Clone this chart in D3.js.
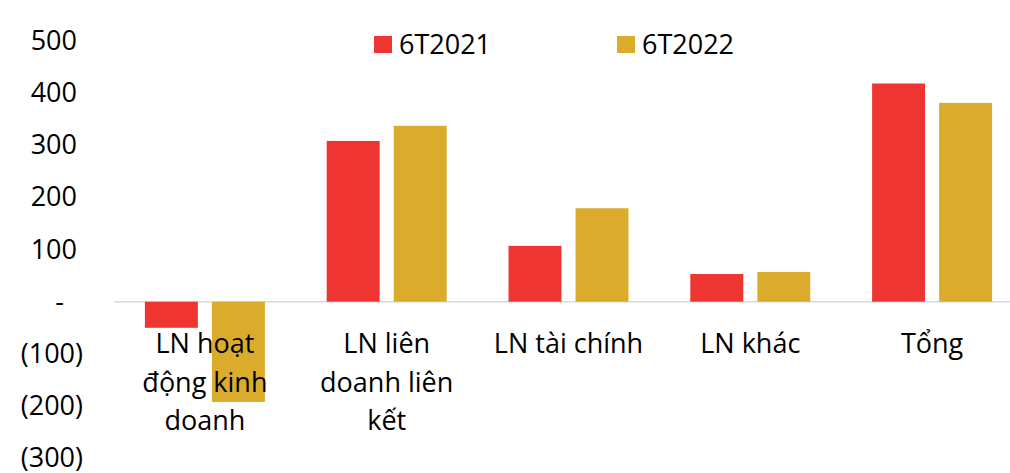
<!DOCTYPE html>
<html>
<head>
<meta charset="utf-8">
<script src="https://cdn.jsdelivr.net/npm/d3@7"></script>
<style>
  body { margin: 0; background: #fff; }
  svg text { font-family: "Open Sans", sans-serif; fill: #000; }
</style>
</head>
<body>
<div class="chart"></div>
<script>
// data
var categories = ["LN hoạt\nđộng kinh\ndoanh", "LN liên\ndoanh liên\nkết", "LN tài chính", "LN khác", "Tổng"];
var seriesNames = ["6T2021", "6T2022"];
var values2021 = [-50, 308, 107, 53, 418];
var values2022 = [-192, 337, 179, 57, 381];
var yTicks = [-300, -200, -100, 0, 100, 200, 300, 400, 500];
var colors = ["#EE3532", "#DBAC2B"];

var svgWidth = 1010;
var svgHeight = 473;
var fontSize = "27px";

var svg = d3.select(".chart")
    .append("svg")
    .attr("width", svgWidth)
    .attr("height", svgHeight);

// scales
var x0 = d3.scaleBand()
    .domain(categories)
    .range([114, 1023])
    .paddingInner(0.34)
    .paddingOuter(0.17);

var x1 = d3.scaleBand()
    .domain(seriesNames)
    .range([0, x0.bandwidth()])
    .paddingInner(0.21);

var y = d3.scaleLinear()
    .domain([-300, 500])
    .range([458.3, 40.7]);

// y axis labels (accounting style)
var fmt = function(d) {
    if (d === 0) return "-";
    if (d < 0) return "(" + Math.abs(d) + ")";
    return d;
};
var yAxis = d3.axisLeft(y).tickValues(yTicks).tickFormat(fmt).tickSize(0);
var yG = svg.append("g").call(yAxis);
yG.select(".domain").remove();
yG.selectAll("text")
    .attr("x", d => d < 0 ? 83 : (d === 0 ? 64 : 77))
    .attr("text-anchor", "end")
    .style("font-family", "'Open Sans', sans-serif")
    .style("font-size", fontSize)
    .attr("fill", "#000");

// zero line
svg.append("line")
    .attr("x1", 114)
    .attr("x2", svgWidth)
    .attr("y1", y(0))
    .attr("y2", y(0))
    .attr("stroke", "#d9d9d9")
    .attr("stroke-width", 1.5);

// bars
var rows = categories.map((c, i) => ({cat: c, vals: [values2021[i], values2022[i]]}));
var groups = svg.selectAll(".grp")
    .data(rows)
    .enter()
    .append("g")
    .attr("transform", d => `translate(${x0(d.cat)},0)`);

groups.selectAll("rect")
    .data(d => d.vals.map((v, j) => ({name: seriesNames[j], value: v, idx: j})))
    .enter()
    .append("rect")
    .attr("x", d => x1(d.name))
    .attr("width", x1.bandwidth())
    .attr("y", d => y(Math.max(0, d.value)))
    .attr("height", d => Math.abs(y(d.value) - y(0)))
    .attr("fill", d => colors[d.idx]);

// category labels, drawn over the bars
var labels = svg.selectAll(".catlabel")
    .data(categories)
    .enter()
    .append("text")
    .attr("class", "catlabel")
    .attr("text-anchor", "middle")
    .attr("font-size", fontSize)
    .attr("transform", d => `translate(${x0(d) + x0.bandwidth() / 2},353)`);

labels.selectAll("tspan")
    .data(d => d.split("\n"))
    .enter()
    .append("tspan")
    .attr("x", 0)
    .attr("dy", (d, i) => i === 0 ? 0 : 38.5)
    .text(d => d);

// legend
var legendX = [374, 617];
var legend = svg.selectAll(".legend")
    .data(seriesNames)
    .enter()
    .append("g")
    .attr("transform", (d, i) => `translate(${legendX[i]},36)`);

legend.append("rect")
    .attr("width", 18)
    .attr("height", 17)
    .attr("fill", (d, i) => colors[i]);

legend.append("text")
    .attr("x", 25)
    .attr("y", 18)
    .attr("font-size", fontSize)
    .text(d => d);
</script>
</body>
</html>
